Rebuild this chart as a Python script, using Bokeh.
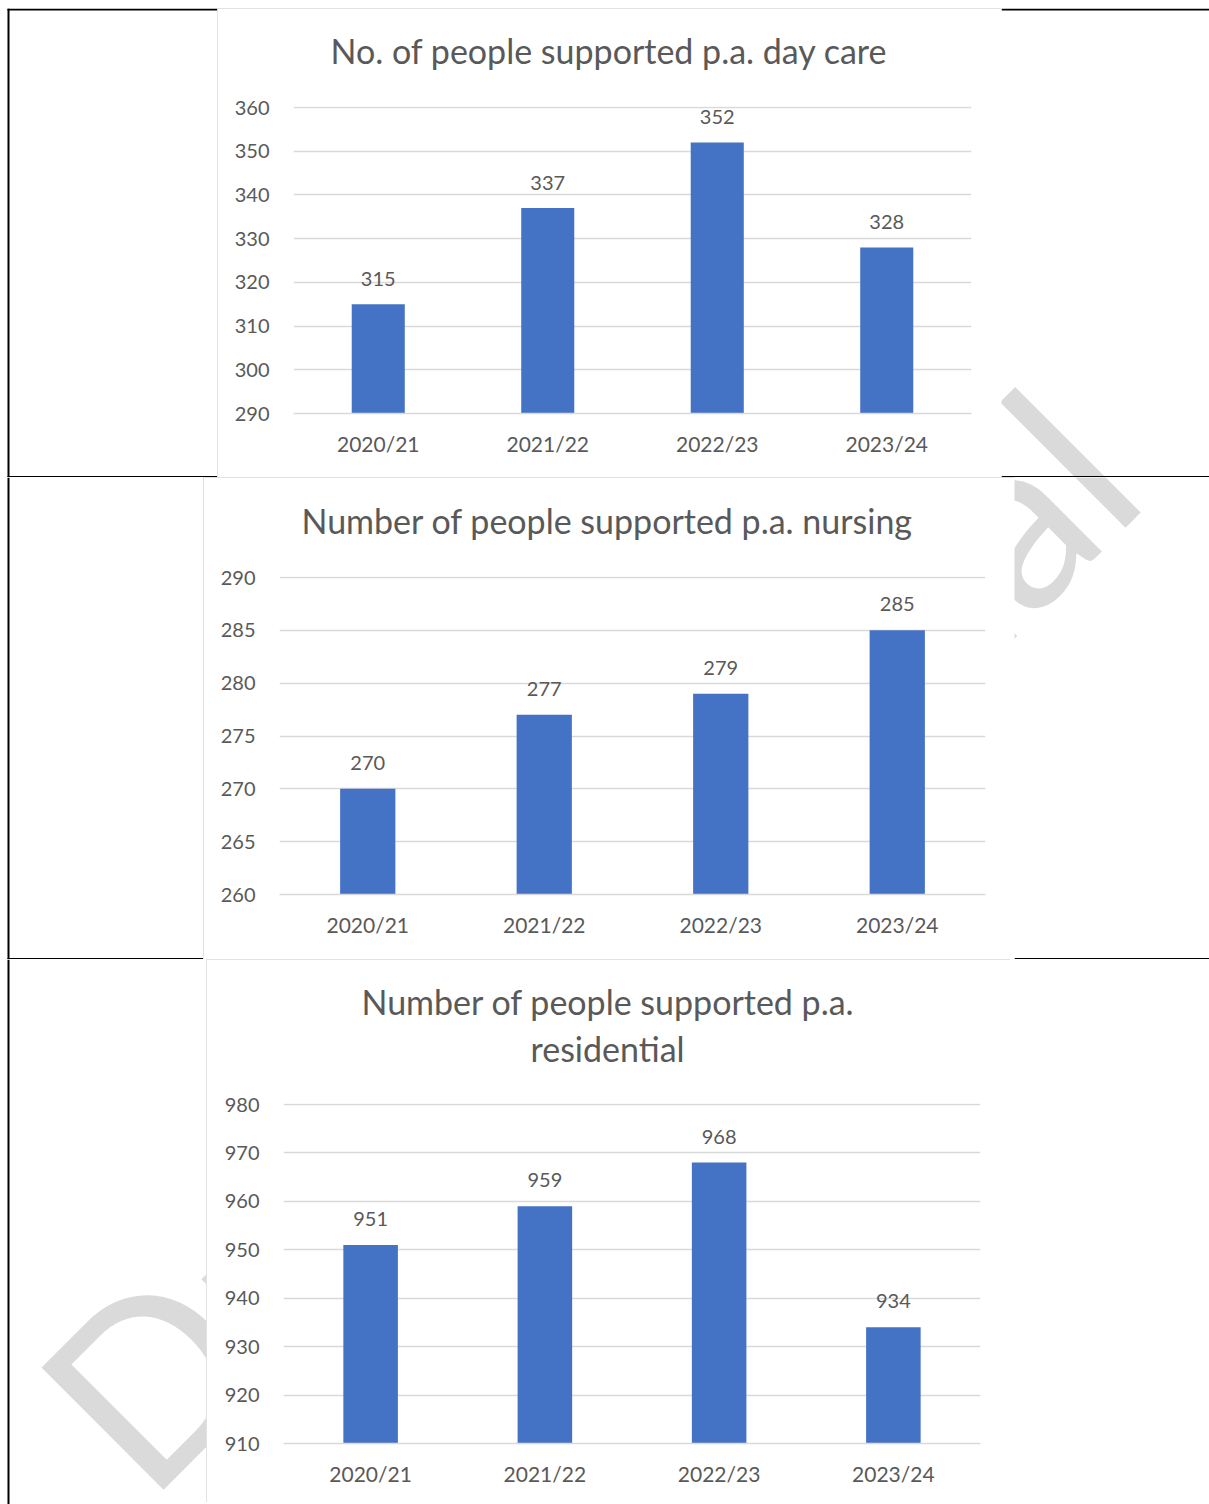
from bokeh.plotting import figure
from bokeh.layouts import row, column
from bokeh.models import Range1d, FixedTicker, LabelSet, Title, ColumnDataSource, Spacer
from bokeh.embed import file_html
from bokeh.resources import INLINE
from bokeh.core.properties import value

# ---------------- data ----------------
years = ["2020/21", "2021/22", "2022/23", "2023/24"]
day_care = [315, 337, 352, 328]
nursing = [270, 277, 279, 285]
residential = [951, 959, 968, 934]

day_care_ticks = [290, 300, 310, 320, 330, 340, 350, 360]
nursing_ticks = [260, 265, 270, 275, 280, 285, 290]
residential_ticks = [910, 920, 930, 940, 950, 960, 970, 980]

day_care_title = ["No. of people supported p.a. day care"]
nursing_title = ["Number of people supported p.a. nursing"]
residential_title = ["Number of people supported p.a.", "residential"]

watermark = "Draft Internal"

# ---------------- style ----------------
FONT = "Lato"
TXT = "#595959"
GRID = "#d9d9d9"
BAR = "#4472C4"
TITLE_SIZE = "34px"
WM_COLOR = "#dadada"
WM_SIZE = "241px"
WM_X, WM_Y = 81.4, 1438.6


def chart(title_specs, spacer, vals, ticks, w, h, left, right, top, bottom, lab_off, clip_bottom=False):
    frame_h = h - top - bottom
    px = (ticks[-1] - ticks[0]) / frame_h
    p = figure(x_range=years, y_range=Range1d(ticks[0], ticks[-1] + px), width=w, height=h,
               title=None, toolbar_location=None, output_backend="svg",
               min_border_left=left, min_border_right=right, min_border_top=top - 1,
               min_border_bottom=bottom, background_fill_color="white",
               border_fill_color="white", outline_line_color=None, frame_align=False)
    src = ColumnDataSource(dict(year=years, val=vals, lab=[str(v) for v in vals]))
    p.vbar(x="year", top="val", bottom=ticks[0], width=0.313, source=src,
           fill_color=BAR, line_color=None)
    p.add_layout(LabelSet(x="year", y="val", text="lab", source=src, text_align="center",
                          text_baseline="alphabetic", y_offset=lab_off,
                          text_font=value(FONT), text_font_size="20px", text_color=TXT))

    p.yaxis.ticker = FixedTicker(ticks=ticks)
    p.yaxis.axis_line_color = None
    p.yaxis.major_tick_line_color = None
    p.yaxis.minor_tick_line_color = None
    p.yaxis.major_tick_out = 0
    p.yaxis.major_tick_in = 0
    p.yaxis.major_label_standoff = 24
    p.yaxis.major_label_text_font = FONT
    p.yaxis.major_label_text_font_size = "20px"
    p.yaxis.major_label_text_color = TXT

    p.xaxis.axis_line_color = GRID
    p.xaxis.axis_line_width = 1.5
    p.xaxis.major_tick_line_color = None
    p.xaxis.minor_tick_line_color = None
    p.xaxis.major_tick_out = 0
    p.xaxis.major_tick_in = 0
    p.xaxis.major_label_standoff = 17
    p.xaxis.major_label_text_font = FONT
    p.xaxis.major_label_text_font_size = "21px"
    p.xaxis.major_label_text_color = TXT

    p.xgrid.grid_line_color = None
    p.ygrid.grid_line_color = GRID
    p.ygrid.grid_line_width = 1.5

    # invisible spacer panel next to the frame, then the title lines outward
    p.add_layout(Title(text=" ", text_font_size="1px", standoff=spacer), "above")
    for text, off, standoff in title_specs:
        p.add_layout(Title(text=text, align="left", offset=off, standoff=standoff,
                           text_font=FONT, text_font_size=TITLE_SIZE, text_color=TXT,
                           text_font_style="normal"), "above")

    st = {"outline": "2px solid #d9d9d9", "outline-offset": "-2px"}
    if clip_bottom:
        st["clip-path"] = "inset(0px 0px 2px 0px)"
    p.styles = st
    return p


def side(x0, x1, y0, y1, segs):
    p = figure(width=x1 - x0, height=y1 - y0, x_range=Range1d(x0, x1), y_range=Range1d(y1, y0),
               x_axis_type=None, y_axis_type=None, title=None, toolbar_location=None,
               output_backend="svg", min_border=0, outline_line_color=None,
               background_fill_color="white", border_fill_color="white", frame_align=False)
    p.text(x=[WM_X], y=[WM_Y], text=[watermark], angle=45, angle_units="deg",
           text_font=value(FONT), text_font_size=WM_SIZE, text_color=WM_COLOR,
           text_align="left", text_baseline="alphabetic")
    for (xa, ya, xb, yb, lw) in segs:
        p.segment(x0=[xa], y0=[ya], x1=[xb], y1=[yb], line_color="black", line_width=lw)
    return p


c1 = chart([(day_care_title[0], 37, 0)], 33, day_care, day_care_ticks,
           784, 469, 76, 30, 99, 64, 18)
c2 = chart([(nursing_title[0], 22, 0)], 33, nursing, nursing_ticks,
           811, 482, 76, 29, 100, 65, 19)
c3 = chart([(residential_title[1], 247, 0), (residential_title[0], 78, 7)], 32, residential,
           residential_ticks, 804, 545, 77, 30, 145, 61, 19, clip_bottom=True)

l1 = side(0, 217, 8, 477, [(8, 8, 8, 477, 2), (7, 9, 217, 9, 2), (7, 476.3, 217, 476.3, 1.5)])
r1 = side(1001, 1209, 8, 477, [(1001, 9, 1209, 9, 2), (1001, 476.3, 1209, 476.3, 1.5)])
l2 = side(0, 203, 477, 959, [(8, 477, 8, 959, 2), (7, 958.2, 203, 958.2, 1.6)])
r2 = side(1014, 1209, 477, 959, [(1014, 958.2, 1209, 958.2, 1.6)])
l3 = side(0, 206, 959, 1504, [(8, 959, 8, 1504, 2)])
r3 = side(1010, 1209, 959, 1504, [])

layout = column(Spacer(width=1209, height=8),
                row(l1, c1, r1, spacing=0),
                row(l2, c2, r2, spacing=0),
                row(l3, c3, r3, spacing=0), spacing=0)

open("out.html", "w").write(file_html(layout, INLINE))
